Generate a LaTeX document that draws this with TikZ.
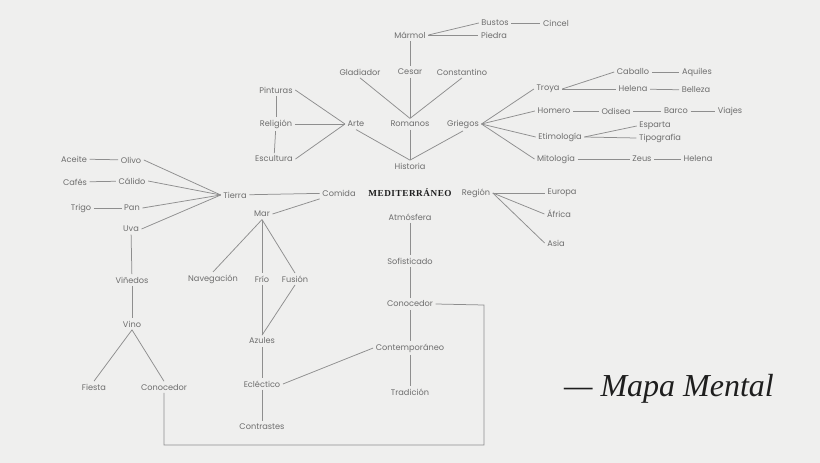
\documentclass[tikz,border=0pt]{standalone}
\usepackage{fontspec}
\newfontfamily\pop{Poppins}
\newfontfamily\ser{Liberation Serif}
\newfontfamily\serls[LetterSpace=6]{Liberation Serif}
\definecolor{bg}{HTML}{EFEFEE}
\definecolor{txt}{HTML}{6E6E6E}
\definecolor{lin}{HTML}{8E8E8E}
\definecolor{ink}{HTML}{1E1E1E}
\begin{document}
\begin{tikzpicture}[x=1pt,y=-1pt,
  every node/.style={font=\pop\fontsize{8.2}{9}\selectfont, text=txt, inner sep=2.5pt},
  ln/.style={draw=lin, line width=0.75pt}]
\fill[bg] (0,0) rectangle (820,463);
\useasboundingbox (0,0) rectangle (820,463);
% top
\node (bustos) at (495,23) {Bustos};
\node (cincel) at (556,23) {Cincel};
\node (marmol) at (410,35) {Mármol};
\node (piedra) at (494,35) {Piedra};
\node (glad) at (360,72) {Gladiador};
\node (cesar) at (410,72) {Cesar};
\node (const) at (462,72) {Constantino};
\node (pint) at (276,90) {Pinturas};
\node (arte) at (356,124) {Arte};
\node (rom) at (410,124) {Romanos};
\node (grie) at (463,124) {Griegos};
\node (reli) at (276,124) {Religión};
\node (escu) at (274,159) {Escultura};
\node (hist) at (410,166) {Historia};
\node (troya) at (548,89) {Troya};
\node (caba) at (633,72) {Caballo};
\node (aqui) at (697,72) {Aquiles};
\node (hel1) at (633,89) {Helena};
\node (bell) at (696,90) {Belleza};
\node (home) at (554,111) {Homero};
\node (odis) at (616,111) {Odisea};
\node (barco) at (676,111) {Barco};
\node (viaj) at (730,111) {Viajes};
\node (etim) at (560,137) {Etimología};
\node (espa) at (655,126) {Esparta};
\node (tipo) at (660,138) {Tipografía};
\node (mito) at (556,159) {Mitología};
\node (zeus) at (642,159) {Zeus};
\node (hel2) at (698,159) {Helena};
% middle
\node[font=\serls\bfseries\fontsize{9.2}{10}\selectfont, text=ink] (med) at (410,193) {MEDITERRÁNEO};
\node (comi) at (339,193) {Comida};
\node (regi) at (476,193) {Región};
\node (euro) at (562,193) {Europa};
\node (afri) at (559,214) {África};
\node (asia) at (556,243) {Asia};
\node (tier) at (235,195) {Tierra};
\node (acei) at (74,159) {Aceite};
\node (oliv) at (131,160) {Olivo};
\node (cafe) at (75,182) {Cafés};
\node (cali) at (132,181) {Cálido};
\node (trig) at (81,208) {Trigo};
\node (pan) at (132,208) {Pan};
\node (uva) at (131,229) {Uva};
\node (mar) at (262,214) {Mar};
\node (nave) at (213,279) {Navegación};
\node (frio) at (262,279) {Frío};
\node (fusi) at (295,279) {Fusión};
\node (vined) at (132,280) {Viñedos};
\node (vino) at (132,324) {Vino};
\node (fies) at (94,387) {Fiesta};
\node (con2) at (164,387) {Conocedor};
\node (azul) at (262,341) {Azules};
\node (ecle) at (262,384) {Ecléctico};
\node (cont) at (262,427) {Contrastes};
\node (atmo) at (410,217) {Atmósfera};
\node (sofi) at (410,261) {Sofisticado};
\node (con1) at (410,304) {Conocedor};
\node (ctmp) at (410,348) {Contemporáneo};
\node (trad) at (410,392) {Tradición};
\node[font=\ser\itshape\fontsize{32}{34}\selectfont, text=ink] (title) at (669,389) {— Mapa Mental};
\coordinate (k1) at (484,305);
\coordinate (k2) at (484,445);
% edges
\path[ln] (marmol.east) -- (bustos.west);
\path[ln] (marmol.east) -- (piedra.west);
\path[ln] (bustos) -- (cincel);
\path[ln] (marmol) -- (cesar);
\path[ln] (cesar) -- (rom);
\path[ln] (glad.south) -- (rom.north);
\path[ln] (const.south) -- (rom.north);
\path[ln] (rom) -- (hist);
\path[ln] (arte.south) -- (hist.north);
\path[ln] (grie.south) -- (hist.north);
\path[ln] (pint.east) -- (arte.west);
\path[ln] (reli.east) -- (arte.west);
\path[ln] (escu.east) -- (arte.west);
\path[ln] (pint) -- (reli);
\path[ln] (reli) -- (escu);
\path[ln] (grie.east) -- (troya.west);
\path[ln] (grie.east) -- (home.west);
\path[ln] (grie.east) -- (etim.west);
\path[ln] (grie.east) -- (mito.west);
\path[ln] (troya.east) -- (caba.west);
\path[ln] (troya.east) -- (hel1.west);
\path[ln] (caba) -- (aqui);
\path[ln] (hel1) -- (bell);
\path[ln] (home) -- (odis);
\path[ln] (odis) -- (barco);
\path[ln] (barco) -- (viaj);
\path[ln] (etim.east) -- (espa.west);
\path[ln] (etim.east) -- (tipo.west);
\path[ln] (mito) -- (zeus);
\path[ln] (zeus) -- (hel2);
\path[ln] (regi.east) -- (euro.west);
\path[ln] (regi.east) -- (afri.west);
\path[ln] (regi.east) -- (asia.west);
\path[ln] (tier) -- (comi);
\path[ln] (comi.south west) -- (mar.east);
\path[ln] (oliv.east) -- (tier.west);
\path[ln] (cali.east) -- (tier.west);
\path[ln] (pan.east) -- (tier.west);
\path[ln] (uva.east) -- (tier.west);
\path[ln] (acei) -- (oliv);
\path[ln] (cafe) -- (cali);
\path[ln] (trig) -- (pan);
\path[ln] (uva) -- (vined);
\path[ln] (vined) -- (vino);
\path[ln] (vino.south) -- (fies.north);
\path[ln] (vino.south) -- (con2.north);
\path[ln] (mar.south) -- (nave.north);
\path[ln] (mar) -- (frio);
\path[ln] (mar.south) -- (fusi.north);
\path[ln] (frio) -- (azul);
\path[ln] (fusi.south) -- (azul.north);
\path[ln] (azul) -- (ecle);
\path[ln] (ecle) -- (cont);
\path[ln] (ecle.east) -- (ctmp.west);
\path[ln] (atmo) -- (sofi);
\path[ln] (sofi) -- (con1);
\path[ln] (con1) -- (ctmp);
\path[ln] (ctmp) -- (trad);
\path[ln] (con1.east) -- (k1) -- (k2) -| (con2.south);
\end{tikzpicture}
\end{document}
